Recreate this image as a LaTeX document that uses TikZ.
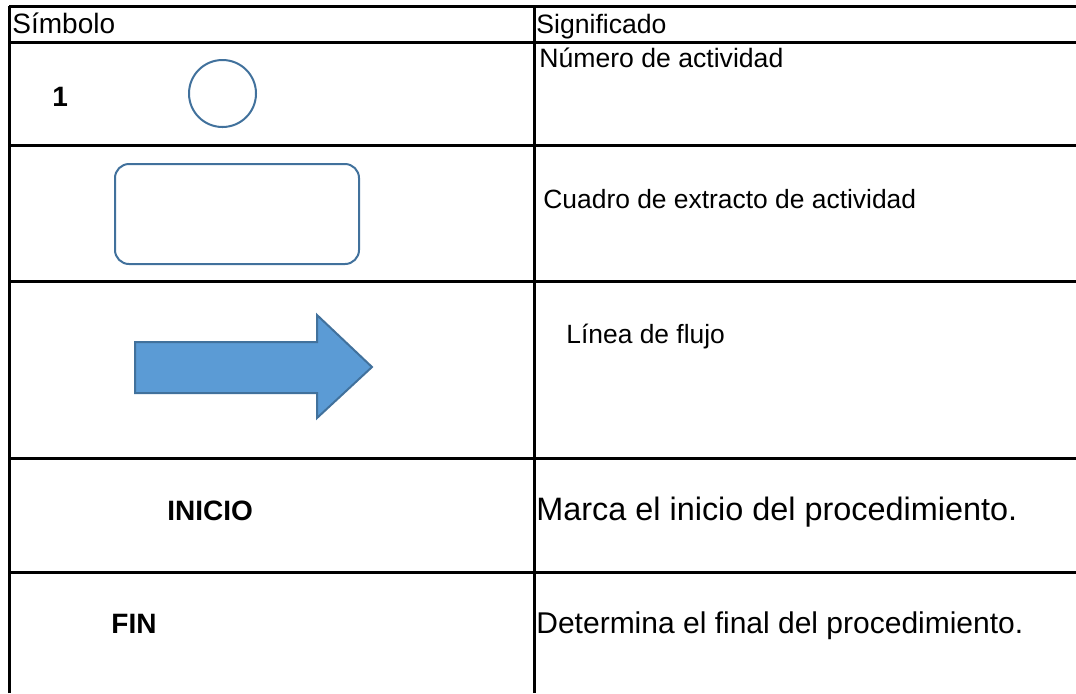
\documentclass[tikz,border=0pt]{standalone}
\usepackage{fontspec}
\setmainfont{Liberation Sans}
\definecolor{symline}{RGB}{65,113,156}
\definecolor{symfill}{RGB}{91,155,213}
\begin{document}
\begin{tikzpicture}[x=0.5pt,y=-0.5pt]
        \tikzstyle{grid}=[line width=1.5pt]
        \tikzstyle{txt}=[anchor=base west,inner sep=0pt,font=\fontsize{13.3}{16}\selectfont]
        \tikzstyle{big}=[font=\fontsize{14}{17}\selectfont]
        \tikzstyle{bold}=[font=\fontsize{14}{17}\selectfont\bfseries]
        \tikzstyle{sym}=[draw=symline,line width=1pt]
        \useasboundingbox (0,0) rectangle (1076,693);
        % tabla
        \draw[grid] (9,693) -- (9,6);
        \draw[grid] (534,6) -- (534,693);
        \foreach \y in {6,42,145,281,458,572}
          \draw[grid] (9,\y) -- (1076,\y);
        % encabezado
        \node[txt,big] (hsim) at (12,33) {Símbolo};
        \node[txt] (hsig) at (536,33) {Significado};
        % fila 1
        \node[txt,bold] (uno) at (52,106) {1};
        \node[circle,sym,minimum size=33.5pt,inner sep=0pt] (circ) at (222.5,93.5) {};
        \node[txt] (num) at (539,67) {Número de actividad};
        % fila 2
        \node[sym,rounded corners=7pt,minimum width=122pt,minimum height=50pt] (box) at (237,214) {};
        \node[txt,font=\fontsize{13.2}{16}\selectfont] (cua) at (543,208) {Cuadro de extracto de actividad};
        % fila 3
        \filldraw[fill=symfill,draw=symline,line width=1pt]
          (135,342) -- (317,342) -- (317,315) -- (372,367) -- (317,418) -- (317,393) -- (135,393) -- cycle;
        \node[txt,font=\fontsize{13.2}{16}\selectfont] (lin) at (566,343) {Línea de flujo};
        % fila 4
        \node[txt,bold] (ini) at (167,520) {INICIO};
        \node[txt,font=\fontsize{16.2}{19}\selectfont] (mar) at (536,520) {Marca el inicio del procedimiento.};
        % fila 5
        \node[txt,bold] (fin) at (111,633) {FIN};
        \node[txt,font=\fontsize{15}{18}\selectfont] (det) at (536,633) {Determina el final del procedimiento.};
\end{tikzpicture}
\end{document}
